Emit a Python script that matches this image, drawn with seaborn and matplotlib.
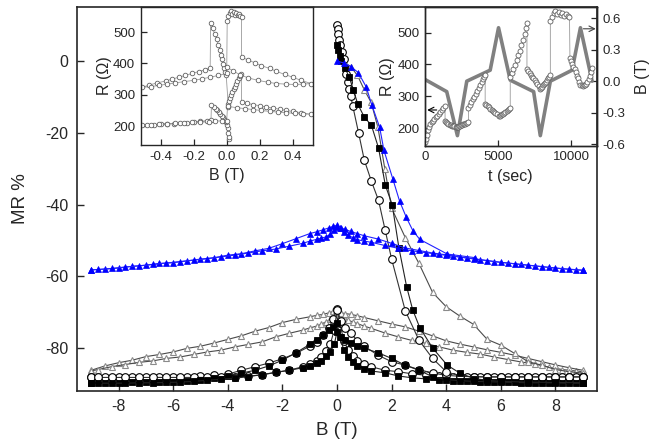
import matplotlib
matplotlib.use("Agg")
import matplotlib.pyplot as plt
import seaborn as sns

# ---------------- main panel data: MR (%) vs B (T) ----------------
GRID_A = [-9, -8.5, -8, -7.5, -7, -6.5, -6, -5.5, -5, -4.5, -4, -3.5, -3, -2.5, -2, -1.5, -1,
          -0.75, -0.5, -0.3, -0.15, 0, 0.1, 0.25, 0.4, 0.6, 0.75, 1.0,
          1.25, 1.75, 2.25, 2.75, 3.25, 3.75, 4.25, 4.75, 5.25, 5.75, 6.25, 6.75, 7.25, 7.75, 8.25, 8.75, 9]
GRID_B = [-9, -8.75, -8.25, -7.75, -7.25, -6.75, -6.25, -5.75, -5.25, -4.75, -4.25, -3.75, -3.25, -2.75, -2.25, -1.75, -1.25,
          -1.0, -0.75, -0.6, -0.4, -0.25, -0.1, 0, 0.15, 0.3, 0.5, 0.75,
          1.0, 1.5, 2.0, 2.5, 3.0, 3.5, 4.0, 4.5, 5.0, 5.5, 6.0, 6.5, 7.0, 7.5, 8.0, 8.5, 9.0]

BLUE_A = [-58.2, -58.0, -57.7, -57.2, -56.9, -56.4, -56.2, -55.7, -55.2, -54.8, -54.1, -53.7, -52.9, -52.2, -50.9, -49.5, -48.1,
          -47.6, -47.0, -46.5, -46.1, -45.8, -46.6, -47.6, -48.5, -49.3, -49.8, -50.2,
          -50.5, -51.4, -52.2, -52.9, -53.4, -53.9, -54.4, -54.9, -55.4, -55.9, -56.3, -56.7, -57.1, -57.5, -57.9, -58.2, -58.3]
BLUE_B = [-58.2, -58.1, -57.8, -57.4, -57.1, -56.7, -56.3, -55.9, -55.5, -55.1, -54.6, -54.1, -53.5, -52.9, -52.4, -51.6, -50.8,
          -50.2, -49.7, -49.4, -49.0, -48.3, -47.2, -46.3, -46.6, -46.9, -47.5, -48.1,
          -48.7, -49.6, -50.8, -52.1, -52.8, -53.5, -54.0, -54.6, -55.1, -55.6, -56.1, -56.5, -56.9, -57.3, -57.7, -58.0, -58.3]
BLUE_V_B = [0.0, 0.25, 0.5, 0.78, 1.07, 1.27, 1.56, 1.72, 2.05, 2.29, 2.54, 2.78, 3.03, 4.04, 5.05]
BLUE_V = [0.0, -0.5, -1.5, -3.2, -7.2, -12.1, -18.4, -24.9, -33.0, -39.0, -43.6, -47.3, -49.7, -53.8, -54.8]

TRI_A = [-86.2, -85.0, -84.1, -83.4, -82.4, -81.8, -81.1, -80.1, -79.5, -78.6, -77.6, -76.6, -75.3, -74.3, -72.9, -72.0, -71.3,
         -70.9, -70.6, -70.2, -69.8, -69.5, -70.3, -71.5, -72.2, -72.8, -73.2, -73.9,
         -74.5, -75.8, -76.9, -77.9, -78.7, -79.7, -80.6, -81.2, -81.7, -82.5, -83.2, -83.9, -84.5, -85.3, -86.0, -86.4, -86.6]
TRI_B = [-86.4, -86.0, -85.2, -84.6, -84.0, -83.6, -82.9, -82.5, -81.8, -81.1, -80.6, -79.7, -79.0, -78.3, -76.9, -75.9, -75.0,
         -74.4, -73.9, -73.4, -72.7, -72.0, -70.8, -70.0, -70.2, -70.4, -70.6, -71.0,
         -71.5, -72.4, -73.3, -74.1, -75.3, -76.6, -78.0, -78.9, -79.7, -80.5, -81.2, -82.0, -82.9, -83.8, -84.7, -85.5, -86.2]
TRI_V_B = [0.1, 0.3, 0.5, 0.75, 1.0, 1.25, 1.5, 1.75, 2.0, 2.5, 3.0, 3.5, 4.0, 4.5, 5.0, 5.5, 6.0, 6.5, 7.0, 7.5, 8.0, 8.5, 9.0]
TRI_V = [0.5, -0.5, -1.5, -4.0, -8.0, -11.5, -18.5, -30.0, -41.0, -49.2, -56.4, -64.5, -68.5, -71.1, -73.4, -77.6, -79.2,
         -81.5, -83.8, -84.8, -86.0, -86.6, -87.0]

CIR_A = [-88.0, -88.0, -88.0, -88.0, -88.0, -88.0, -88.0, -88.0, -87.8, -87.6, -87.3, -86.2, -85.2, -84.2, -83.0, -81.5, -79.5,
         -78.2, -76.5, -74.5, -72.0, -69.0, -73.0, -78.0, -80.5, -82.3, -83.5, -84.5,
         -85.2, -86.2, -86.6, -87.2, -87.6, -87.9, -88.0, -88.1, -88.1, -88.1, -88.1, -88.1, -88.1, -88.1, -88.1, -88.1, -88.1]
CIR_B = [-88.1, -88.2, -88.2, -88.2, -88.2, -88.2, -88.2, -88.2, -88.2, -88.2, -88.1, -88.0, -87.8, -87.5, -86.8, -86.2, -85.2,
         -84.5, -83.5, -82.5, -80.8, -79.0, -75.0, -69.5, -72.5, -74.5, -75.8, -78.0,
         -79.5, -82.0, -83.8, -84.8, -86.0, -87.0, -87.6, -87.9, -88.0, -88.0, -88.0, -88.0, -88.0, -88.0, -88.0, -88.0, -88.0]
CIR_V_B = [0.0, 0.02, 0.05, 0.08, 0.12, 0.18, 0.25, 0.33, 0.39, 0.45, 0.5, 0.58, 0.79, 1.0, 1.26, 1.52, 1.76, 2.0, 2.5, 3.0,
           3.5, 4.0, 4.5, 5.0, 5.5, 6.0, 6.5, 7.0, 7.5, 8.0, 8.5, 9.0]
CIR_V = [10.2, 9.0, 7.5, 6.0, 4.5, 2.5, 0.5, -3.5, -5.8, -7.7, -9.6, -12.6, -20.0, -27.6, -33.5, -38.8, -47.0, -55.2, -69.6,
         -77.8, -82.9, -86.6, -87.8, -88.0, -88.1, -88.1, -88.1, -88.1, -88.1, -88.1, -88.1, -88.1]

SQ_A = [-89.7, -89.7, -89.7, -89.6, -89.6, -89.5, -89.4, -89.1, -88.8, -88.4, -87.8, -87.0, -86.2, -85.0, -83.4, -81.3, -79.0,
        -77.8, -76.3, -75.0, -74.0, -73.0, -77.0, -80.5, -82.5, -84.0, -85.0, -85.9,
        -86.4, -86.9, -87.8, -88.3, -88.6, -88.9, -89.1, -89.3, -89.4, -89.5, -89.6, -89.7, -89.7, -89.7, -89.7, -89.7, -89.7]
SQ_B = [-89.8, -89.8, -89.8, -89.8, -89.7, -89.7, -89.6, -89.5, -89.3, -89.0, -88.7, -88.4, -88.0, -87.4, -86.8, -86.2, -85.5,
        -85.0, -84.2, -83.5, -82.3, -81.0, -79.0, -75.5, -76.8, -77.8, -78.5, -79.3,
        -80.1, -81.3, -82.9, -84.8, -86.2, -88.0, -88.8, -89.1, -89.3, -89.4, -89.5, -89.6, -89.7, -89.7, -89.7, -89.8, -89.8]
SQ_V_B = [0.0, 0.05, 0.1, 0.15, 0.3, 0.45, 0.6, 0.76, 1.0, 1.26, 1.52, 1.77, 2.02, 2.27, 2.55, 2.77, 3.03, 3.5, 4.04, 4.5,
          5.0, 5.5, 6.0, 7.0, 8.0, 9.0]
SQ_V = [4.5, 3.0, 1.5, 0.0, -2.0, -4.5, -8.0, -12.0, -15.6, -17.9, -24.2, -34.6, -40.0, -52.2, -62.9, -69.3, -74.3, -80.0,
        -84.8, -87.0, -88.5, -89.0, -89.3, -89.5, -89.6, -89.7]

# ---------------- inset data: R (Ohm) measured while B swept in time ----------------
INS_T = [0, 60, 130, 200, 280, 360, 450, 550, 650, 750, 850, 950, 1050, 1150, 1250, 1374,
         1374, 1450, 1530, 1610, 1690, 1770, 1850, 1930, 2010, 2090, 2160, 2221,
         2280, 2350, 2420, 2490, 2560, 2630, 2700, 2770, 2840, 2910, 2977,
         2977, 3080, 3180, 3280, 3380, 3480, 3580, 3680, 3780, 3880, 3980, 4060, 4122,
         4122, 4200, 4290, 4380, 4470, 4560, 4650, 4740, 4830, 4920, 5038,
         5110, 5190, 5270, 5350, 5430, 5510, 5590, 5670, 5750, 5840,
         5840, 5950, 6060, 6170, 6280, 6390, 6500, 6610, 6720, 6830, 6920, 6985,
         6985, 7070, 7160, 7250, 7340, 7430, 7520, 7610, 7700, 7800, 7900,
         7960, 8030, 8100, 8170, 8240, 8310, 8380, 8450, 8520, 8588,
         8588, 8700, 8820, 8940, 9060, 9180, 9300, 9420, 9540, 9660, 9780, 9900,
         9930, 10010, 10090, 10170, 10250, 10330, 10410, 10490, 10570, 10650,
         10730, 10810, 10890, 10970, 11050, 11130, 11210, 11290, 11370, 11450]
INS_B = [0.016, 0.013, 0.010, 0.006, 0.002, -0.003, -0.009, -0.016, -0.023, -0.031, -0.039, -0.047, -0.056, -0.066, -0.077, -0.092,
         -0.095, -0.12, -0.16, -0.2, -0.24, -0.28, -0.32, -0.36, -0.40, -0.44, -0.48, -0.51,
         -0.46, -0.41, -0.36, -0.31, -0.26, -0.21, -0.16, -0.11, -0.07, -0.03, 0.0,
         0.005, 0.01, 0.016, 0.022, 0.028, 0.035, 0.042, 0.049, 0.056, 0.064, 0.072, 0.08, 0.088,
         0.09, 0.12, 0.16, 0.2, 0.24, 0.28, 0.32, 0.36, 0.4, 0.45, 0.51,
         0.46, 0.41, 0.36, 0.31, 0.26, 0.21, 0.16, 0.11, 0.06, 0.01,
         -0.003, -0.008, -0.014, -0.02, -0.027, -0.034, -0.042, -0.051, -0.061, -0.073, -0.085, -0.097,
         -0.1, -0.13, -0.17, -0.21, -0.25, -0.29, -0.33, -0.37, -0.42, -0.47, -0.51,
         -0.46, -0.41, -0.36, -0.31, -0.26, -0.2, -0.15, -0.1, -0.05, 0.0,
         0.003, 0.01, 0.018, 0.026, 0.034, 0.042, 0.05, 0.058, 0.066, 0.074, 0.082, 0.09,
         0.09, 0.13, 0.17, 0.21, 0.26, 0.3, 0.35, 0.4, 0.45, 0.51,
         0.46, 0.41, 0.36, 0.3, 0.25, 0.19, 0.13, 0.08, 0.04, 0.0]
INS_R = [158, 165, 178, 195, 205, 212, 218, 224, 229, 234, 239, 245, 250, 256, 262, 268,
         221, 218, 215, 213, 211, 209, 208, 207, 206, 205, 204, 203,
         205, 206, 208, 209, 210, 212, 213, 214, 216, 217, 218,
         262, 272, 281, 290, 299, 308, 317, 326, 335, 344, 353, 360, 367,
         277, 273, 269, 265, 261, 258, 254, 250, 247, 243, 238,
         239, 241, 243, 245, 247, 250, 253, 256, 259, 263,
         362, 374, 386, 399, 413, 428, 443, 460, 477, 495, 513, 530,
         386, 380, 374, 368, 362, 356, 350, 344, 338, 331, 324,
         326, 330, 334, 338, 342, 346, 351, 356, 362, 368,
         535, 550, 560, 566, 557, 564, 556, 562, 553, 559, 551, 548,
         420, 411, 402, 393, 384, 375, 365, 356, 346, 336,
         334, 333, 334, 336, 340, 346, 354, 364, 376, 388]
FIELD_T = [0, 1488, 2221, 2863, 4466, 5038, 5840, 7443, 7900, 8588, 10076, 10650, 11450]
FIELD_B = [0.016, -0.10, -0.52, 0.0, 0.105, 0.51, 0.01, -0.10, -0.52, 0.0, 0.105, 0.51, 0.0]

X_TICKS = [-8, -6, -4, -2, 0, 2, 4, 6, 8]
Y_TICKS = [-80, -60, -40, -20, 0]

# ---------------- styling ----------------
sns.set_style("ticks")
plt.rcParams['font.family'] = ['Liberation Sans', 'DejaVu Sans']
plt.rcParams['axes.unicode_minus'] = False
plt.rcParams['xtick.direction'] = 'in'
plt.rcParams['ytick.direction'] = 'in'

W, H = 649, 448
fig = plt.figure(figsize=(W / 100, H / 100), dpi=100)


def px_axes(l, t, r, b):
    return fig.add_axes([l / W, 1 - b / H, (r - l) / W, (b - t) / H])


def draw(ax, x, y, marker, ms, mfc, mec, lc, lw=0.8, mew=0.8, z=2):
    sns.lineplot(x=x, y=y, ax=ax, sort=False, estimator=None, color=lc, linewidth=lw,
                 marker=marker, markersize=ms, markerfacecolor=mfc, markeredgecolor=mec,
                 markeredgewidth=mew, legend=False, zorder=z)


ax = px_axes(77, 7, 597, 390.7)
tri_kw = dict(marker='^', ms=4.6, mfc='white', mec='#8a8a8a', lc='#4a4a4a', lw=0.8, mew=0.8, z=2)
for xs, ys in [(GRID_A, TRI_A), (GRID_B, TRI_B), (TRI_V_B, TRI_V)]:
    draw(ax, xs, ys, **tri_kw)
cir_kw = dict(marker='o', ms=5.5, mfc='white', mec='black', lc='#333333', lw=0.8, mew=0.8, z=3)
for xs, ys in [(GRID_A, CIR_A), (GRID_B, CIR_B), (CIR_V_B, CIR_V)]:
    draw(ax, xs, ys, **cir_kw)
sq_kw = dict(marker='s', ms=5.0, mfc='black', mec='black', lc='#222222', lw=0.8, mew=0.6, z=4)
for xs, ys in [(GRID_A, SQ_A), (GRID_B, SQ_B), (SQ_V_B, SQ_V)]:
    draw(ax, xs, ys, **sq_kw)
blue_kw = dict(marker='^', ms=4.4, mfc='#0000ff', mec='#0000ff', lc='#2222ff', lw=0.8, mew=0.5, z=5)
for xs, ys in [(GRID_A, BLUE_A), (GRID_B, BLUE_B), (BLUE_V_B, BLUE_V)]:
    draw(ax, xs, ys, **blue_kw)

ax.set_xlim(-9.52, 9.52)
ax.set_ylim(-91.9, 15.1)
ax.set_xticks(X_TICKS)
ax.set_yticks(Y_TICKS)
ax.tick_params(axis='both', labelsize=11.5, length=5, width=1, pad=6)
ax.set_xlabel('B (T)', fontsize=13.5, labelpad=6)
ax.set_ylabel('MR %', fontsize=13.5, labelpad=12)
for s in ax.spines.values():
    s.set_linewidth(1.2)
    s.set_visible(True)

# ---------------- inset 1: R vs B ----------------
ax1 = px_axes(140.7, 7, 312.7, 145)
ax1.set_zorder(5)
ax1.set_facecolor('white')
draw(ax1, INS_B, INS_R, marker='o', ms=3.3, mfc='white', mec='#606060', lc='#9a9a9a', lw=0.6, mew=0.6)
ax1.set_xlim(-0.52, 0.52)
ax1.set_ylim(140, 580)
ax1.set_xticks([-0.4, -0.2, 0.0, 0.2, 0.4])
ax1.set_xticklabels(['-0.4', '-0.2', '0.0', '0.2', '0.4'])
ax1.set_yticks([200, 300, 400, 500])
ax1.tick_params(axis='both', labelsize=9.5, length=4, width=0.9, pad=4)
ax1.set_xlabel('B (T)', fontsize=11.5, labelpad=4)
ax1.set_ylabel('R (\u03a9)', fontsize=11.5, labelpad=1)
for s in ax1.spines.values():
    s.set_linewidth(1.0)
    s.set_visible(True)

# ---------------- inset 2: R and B vs time ----------------
ax2 = px_axes(425, 7, 596.5, 145.7)
ax2b = ax2.twinx()
ax2b.set_zorder(5)
ax2.set_zorder(6)
ax2.patch.set_alpha(0)
ax2b.set_facecolor('white')
sns.lineplot(x=FIELD_T, y=FIELD_B, ax=ax2b, sort=False, estimator=None, color='#808080',
             linewidth=2.6, legend=False)
draw(ax2, INS_T, INS_R, marker='o', ms=3.6, mfc='white', mec='#606060', lc='#9a9a9a', lw=0.6, mew=0.6)
ax2.set_xlim(0, 11750)
ax2.set_ylim(145, 580)
ax2b.set_ylim(-0.616, 0.708)
ax2.set_xticks([0, 5000, 10000])
ax2.set_yticks([200, 300, 400, 500])
ax2b.set_yticks([-0.6, -0.3, 0.0, 0.3, 0.6])
ax2b.set_yticklabels(['-0.6', '-0.3', '0.0', '0.3', '0.6'])
ax2.tick_params(axis='both', labelsize=9.5, length=4, width=0.9, pad=4)
ax2b.tick_params(axis='y', labelsize=9.5, length=4, width=0.9, pad=4, direction='in')
ax2.set_xlabel('t (sec)', fontsize=11.5, labelpad=4)
ax2.set_ylabel('R (\u03a9)', fontsize=11.5, labelpad=2)
ax2b.set_ylabel('B (T)', fontsize=11.5, labelpad=7)
for a in (ax2, ax2b):
    for s in a.spines.values():
        s.set_linewidth(1.0)
        s.set_visible(True)
ax2.annotate('', xy=(150, 257), xytext=(800, 257),
             arrowprops=dict(arrowstyle='->', color='black', lw=0.8, shrinkA=0, shrinkB=0))
ax2b.annotate('', xy=(11700, 0.50), xytext=(10850, 0.50),
              arrowprops=dict(arrowstyle='->', color='#444444', lw=0.8, shrinkA=0, shrinkB=0))

fig.savefig('out.png', dpi=100)
